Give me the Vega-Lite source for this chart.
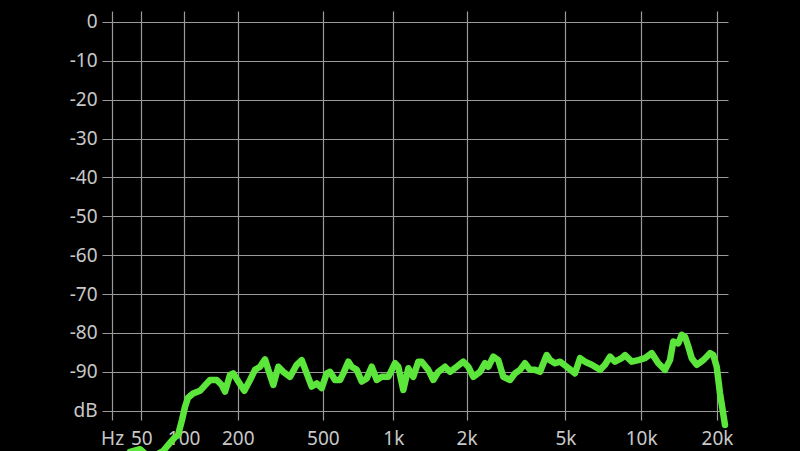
{
  "$schema": "https://vega.github.io/schema/vega-lite/v6.json",
  "width": 626,
  "height": 409,
  "autosize": {"type": "none"},
  "padding": {"left": 102, "top": 11, "right": 72, "bottom": 31},
  "background": "#000000",
  "config": {"view": {"stroke": null}, "font": "Noto Sans"},
  "data": {"values": [
    {"f": 39.5, "db": -110.6}, {"f": 48.7, "db": -109.9}, {"f": 58.7, "db": -112.2}, {"f": 73.3, "db": -110.4},
    {"f": 81.8, "db": -108.3}, {"f": 88.3, "db": -106.8}, {"f": 92.3, "db": -106.3}, {"f": 97.8, "db": -102.4},
    {"f": 102.1, "db": -99.0}, {"f": 106.5, "db": -96.7}, {"f": 114.1, "db": -95.6}, {"f": 125.3, "db": -94.9},
    {"f": 133.8, "db": -93.5}, {"f": 142.7, "db": -92.1}, {"f": 155.2, "db": -92.1}, {"f": 165.1, "db": -93.4},
    {"f": 171.9, "db": -95.1}, {"f": 182.5, "db": -90.8}, {"f": 189.8, "db": -90.4}, {"f": 201.3, "db": -92.5},
    {"f": 215.8, "db": -94.9}, {"f": 230.3, "db": -92.1}, {"f": 243.6, "db": -89.5}, {"f": 257.6, "db": -88.7},
    {"f": 272.2, "db": -86.8}, {"f": 282.3, "db": -89.5}, {"f": 298.1, "db": -93.4}, {"f": 314.5, "db": -88.7},
    {"f": 331.8, "db": -90.0}, {"f": 356.3, "db": -91.3}, {"f": 382.2, "db": -88.2}, {"f": 402.7, "db": -87.0},
    {"f": 424, "db": -90.4}, {"f": 446.4, "db": -93.8}, {"f": 469.8, "db": -93.0}, {"f": 494.3, "db": -94.2},
    {"f": 519.9, "db": -90.4}, {"f": 537.5, "db": -90.0}, {"f": 565.2, "db": -92.1}, {"f": 594.1, "db": -92.1},
    {"f": 613.9, "db": -90.4}, {"f": 645.2, "db": -87.4}, {"f": 667.2, "db": -88.7}, {"f": 700.9, "db": -89.5},
    {"f": 736.1, "db": -92.5}, {"f": 773, "db": -91.7}, {"f": 811.6, "db": -88.7}, {"f": 852, "db": -92.1},
    {"f": 894.2, "db": -91.3}, {"f": 953, "db": -91.3}, {"f": 1016.4, "db": -87.8}, {"f": 1049.1, "db": -88.7},
    {"f": 1100.6, "db": -94.7}, {"f": 1154.4, "db": -89.1}, {"f": 1210.7, "db": -91.3}, {"f": 1269.7, "db": -87.4},
    {"f": 1311.4, "db": -87.4}, {"f": 1396, "db": -89.5}, {"f": 1463.5, "db": -92.1}, {"f": 1534.3, "db": -90.0},
    {"f": 1634.2, "db": -88.7}, {"f": 1712.7, "db": -90.0}, {"f": 1823.9, "db": -88.7}, {"f": 1940.2, "db": -87.4},
    {"f": 2033.2, "db": -88.7}, {"f": 2130.5, "db": -91.3}, {"f": 2267.7, "db": -90.0}, {"f": 2375.7, "db": -87.8},
    {"f": 2449.9, "db": -88.7}, {"f": 2566.7, "db": -86.1}, {"f": 2688.5, "db": -87.0}, {"f": 2816.3, "db": -91.3},
    {"f": 2996.7, "db": -92.1}, {"f": 3138.6, "db": -90.4}, {"f": 3287.3, "db": -89.5}, {"f": 3442.9, "db": -87.8},
    {"f": 3605.4, "db": -89.5}, {"f": 3775.8, "db": -89.5}, {"f": 3953.9, "db": -90.0}, {"f": 4205.7, "db": -85.7},
    {"f": 4335.5, "db": -87.0}, {"f": 4540.1, "db": -87.8}, {"f": 4753.6, "db": -87.4}, {"f": 5055.7, "db": -88.7},
    {"f": 5456.5, "db": -90.4}, {"f": 5713.4, "db": -86.5}, {"f": 5981.4, "db": -87.4}, {"f": 6360.6, "db": -88.2},
    {"f": 6863.8, "db": -89.5}, {"f": 7185.2, "db": -88.2}, {"f": 7522.3, "db": -86.1}, {"f": 7874.4, "db": -87.4},
    {"f": 8373.3, "db": -86.5}, {"f": 8629.9, "db": -85.7}, {"f": 9176.2, "db": -87.4}, {"f": 9747.1, "db": -87.0},
    {"f": 10362, "db": -86.5}, {"f": 11017, "db": -85.2}, {"f": 11701, "db": -87.8}, {"f": 12440, "db": -89.5},
    {"f": 13020, "db": -87.0}, {"f": 13418, "db": -82.2}, {"f": 14046, "db": -82.7}, {"f": 14489, "db": -80.5},
    {"f": 14932, "db": -81.0}, {"f": 15387, "db": -83.5}, {"f": 15873, "db": -86.5}, {"f": 16614, "db": -88.2},
    {"f": 17645, "db": -87.0}, {"f": 18757, "db": -85.2}, {"f": 19329, "db": -85.7}, {"f": 19938, "db": -88.7},
    {"f": 20546, "db": -95.5}, {"f": 21503, "db": -103.7}
  ]},
  "mark": {"type": "line", "color": "#5ce63c", "strokeWidth": 6.5, "strokeCap": "round", "strokeJoin": "round", "clip": false},
  "encoding": {
    "x": {
      "field": "f", "type": "quantitative",
      "scale": {"type": "symlog", "constant": 57, "domain": [17.8, 22100], "nice": false, "zero": false},
      "axis": {
        "title": null,
        "values": [25, 50, 100, 200, 500, 1000, 2000, 5000, 10000, 20000],
        "labelExpr": "datum.value < 30 ? 'Hz' : (datum.value >= 1000 ? (datum.value / 1000) + 'k' : datum.value + '')",
        "domain": false, "ticks": false, "tickSize": 0,
        "grid": true, "gridColor": "#9a9a9a", "gridWidth": 1.2,
        "labelColor": "#c8c8c8", "labelFontSize": 19, "labelFont": "Noto Sans",
        "labelBaseline": "middle", "labelPadding": 18,
        "labelFlush": false, "labelOverlap": false
      }
    },
    "y": {
      "field": "db", "type": "quantitative",
      "scale": {"domain": [-102.4, 2.8], "nice": false, "zero": false},
      "axis": {
        "title": null,
        "values": [0, -10, -20, -30, -40, -50, -60, -70, -80, -90, -100],
        "labelExpr": "datum.value == -100 ? 'dB' : datum.value + ''",
        "domain": false, "ticks": false, "tickSize": 0,
        "grid": true, "gridColor": "#9a9a9a", "gridWidth": 1.2,
        "labelColor": "#c8c8c8", "labelFontSize": 19, "labelFont": "Noto Sans",
        "labelPadding": 5, "labelFlush": false, "labelOverlap": false
      }
    }
  }
}
